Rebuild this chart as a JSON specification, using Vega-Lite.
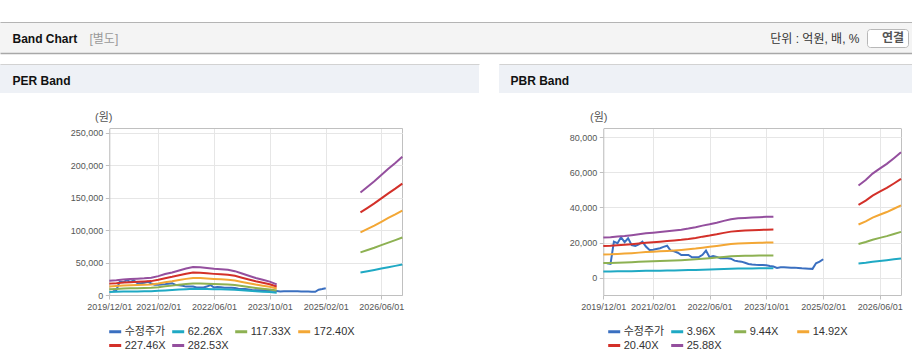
{
  "$schema": "https://vega.github.io/schema/vega-lite/v6.json",
  "padding": {"left": 0, "top": 22, "right": 0, "bottom": 0},
  "background": "#ffffff",
  "config": {
    "font": "Liberation Sans, Noto Sans CJK KR",
    "view": {"stroke": null},
    "axis": {"labelFont": "Liberation Sans, Noto Sans CJK KR", "titleFont": "Liberation Sans, Noto Sans CJK KR"},
    "legend": {"labelFont": "Liberation Sans, Noto Sans CJK KR", "titleFont": "Liberation Sans, Noto Sans CJK KR"}
  },
  "datasets": {
    "price": [
      {"d":"2020-01-01","s":"수정주가","v":8200},{"d":"2020-02-01","s":"수정주가","v":7800},{"d":"2020-03-01","s":"수정주가","v":20500},
      {"d":"2020-04-01","s":"수정주가","v":19600},{"d":"2020-05-01","s":"수정주가","v":23000},{"d":"2020-06-01","s":"수정주가","v":20200},
      {"d":"2020-07-01","s":"수정주가","v":22400},{"d":"2020-08-01","s":"수정주가","v":18500},{"d":"2020-09-01","s":"수정주가","v":18100},
      {"d":"2020-10-01","s":"수정주가","v":19000},{"d":"2020-11-01","s":"수정주가","v":20500},{"d":"2020-12-01","s":"수정주가","v":17700},
      {"d":"2021-01-01","s":"수정주가","v":15800},{"d":"2021-02-01","s":"수정주가","v":15900},{"d":"2021-03-01","s":"수정주가","v":16300},
      {"d":"2021-04-01","s":"수정주가","v":16750},{"d":"2021-05-01","s":"수정주가","v":17500},{"d":"2021-06-01","s":"수정주가","v":18200},
      {"d":"2021-07-01","s":"수정주가","v":15400},{"d":"2021-08-01","s":"수정주가","v":15000},{"d":"2021-09-01","s":"수정주가","v":14200},
      {"d":"2021-10-01","s":"수정주가","v":12900},{"d":"2021-11-01","s":"수정주가","v":12900},{"d":"2021-12-01","s":"수정주가","v":12900},
      {"d":"2022-01-01","s":"수정주가","v":11600},{"d":"2022-02-01","s":"수정주가","v":11600},{"d":"2022-03-01","s":"수정주가","v":11700},
      {"d":"2022-04-01","s":"수정주가","v":13000},{"d":"2022-05-01","s":"수정주가","v":15400},{"d":"2022-06-01","s":"수정주가","v":11600},
      {"d":"2022-07-01","s":"수정주가","v":12300},{"d":"2022-08-01","s":"수정주가","v":11800},{"d":"2022-09-01","s":"수정주가","v":11000},
      {"d":"2022-10-01","s":"수정주가","v":11000},{"d":"2022-11-01","s":"수정주가","v":11000},{"d":"2022-12-01","s":"수정주가","v":10800},
      {"d":"2023-01-01","s":"수정주가","v":9700},{"d":"2023-02-01","s":"수정주가","v":9300},{"d":"2023-03-01","s":"수정주가","v":9100},
      {"d":"2023-04-01","s":"수정주가","v":8500},{"d":"2023-05-01","s":"수정주가","v":7800},{"d":"2023-06-01","s":"수정주가","v":7500},
      {"d":"2023-07-01","s":"수정주가","v":7300},{"d":"2023-08-01","s":"수정주가","v":7200},{"d":"2023-09-01","s":"수정주가","v":7200},
      {"d":"2023-10-01","s":"수정주가","v":7000},{"d":"2023-11-01","s":"수정주가","v":6600},{"d":"2023-12-01","s":"수정주가","v":6300},
      {"d":"2024-01-01","s":"수정주가","v":5500},{"d":"2024-02-01","s":"수정주가","v":5900},{"d":"2024-03-01","s":"수정주가","v":5900},
      {"d":"2024-04-01","s":"수정주가","v":5800},{"d":"2024-05-01","s":"수정주가","v":5700},{"d":"2024-06-01","s":"수정주가","v":5700},
      {"d":"2024-07-01","s":"수정주가","v":5500},{"d":"2024-08-01","s":"수정주가","v":5300},{"d":"2024-09-01","s":"수정주가","v":5200},
      {"d":"2024-10-01","s":"수정주가","v":5100},{"d":"2024-11-01","s":"수정주가","v":5000},{"d":"2024-12-01","s":"수정주가","v":8200},
      {"d":"2025-01-01","s":"수정주가","v":9100},{"d":"2025-02-01","s":"수정주가","v":10500}
    ],
    "perb": [
      {"d":"2019-12-01","s":"62.26X","v":4794},{"d":"2019-12-01","s":"117.33X","v":9034},{"d":"2019-12-01","s":"172.40X","v":13275},{"d":"2019-12-01","s":"227.46X","v":17514},{"d":"2019-12-01","s":"282.53X","v":21755},
      {"d":"2020-02-01","s":"62.26X","v":4981},{"d":"2020-02-01","s":"117.33X","v":9386},{"d":"2020-02-01","s":"172.40X","v":13792},{"d":"2020-02-01","s":"227.46X","v":18197},{"d":"2020-02-01","s":"282.53X","v":22602},
      {"d":"2020-04-01","s":"62.26X","v":5230},{"d":"2020-04-01","s":"117.33X","v":9856},{"d":"2020-04-01","s":"172.40X","v":14482},{"d":"2020-04-01","s":"227.46X","v":19107},{"d":"2020-04-01","s":"282.53X","v":23733},
      {"d":"2020-06-01","s":"62.26X","v":5417},{"d":"2020-06-01","s":"117.33X","v":10208},{"d":"2020-06-01","s":"172.40X","v":14999},{"d":"2020-06-01","s":"227.46X","v":19789},{"d":"2020-06-01","s":"282.53X","v":24580},
      {"d":"2020-08-01","s":"62.26X","v":5541},{"d":"2020-08-01","s":"117.33X","v":10442},{"d":"2020-08-01","s":"172.40X","v":15344},{"d":"2020-08-01","s":"227.46X","v":20244},{"d":"2020-08-01","s":"282.53X","v":25145},
      {"d":"2020-10-01","s":"62.26X","v":5666},{"d":"2020-10-01","s":"117.33X","v":10677},{"d":"2020-10-01","s":"172.40X","v":15688},{"d":"2020-10-01","s":"227.46X","v":20699},{"d":"2020-10-01","s":"282.53X","v":25710},
      {"d":"2020-12-01","s":"62.26X","v":5852},{"d":"2020-12-01","s":"117.33X","v":11029},{"d":"2020-12-01","s":"172.40X","v":16206},{"d":"2020-12-01","s":"227.46X","v":21381},{"d":"2020-12-01","s":"282.53X","v":26558},
      {"d":"2021-02-01","s":"62.26X","v":6413},{"d":"2021-02-01","s":"117.33X","v":12085},{"d":"2021-02-01","s":"172.40X","v":17757},{"d":"2021-02-01","s":"227.46X","v":23428},{"d":"2021-02-01","s":"282.53X","v":29101},
      {"d":"2021-04-01","s":"62.26X","v":7098},{"d":"2021-04-01","s":"117.33X","v":13376},{"d":"2021-04-01","s":"172.40X","v":19654},{"d":"2021-04-01","s":"227.46X","v":25930},{"d":"2021-04-01","s":"282.53X","v":32208},
      {"d":"2021-06-01","s":"62.26X","v":7658},{"d":"2021-06-01","s":"117.33X","v":14432},{"d":"2021-06-01","s":"172.40X","v":21205},{"d":"2021-06-01","s":"227.46X","v":27978},{"d":"2021-06-01","s":"282.53X","v":34751},
      {"d":"2021-08-01","s":"62.26X","v":8343},{"d":"2021-08-01","s":"117.33X","v":15722},{"d":"2021-08-01","s":"172.40X","v":23102},{"d":"2021-08-01","s":"227.46X","v":30480},{"d":"2021-08-01","s":"282.53X","v":37859},
      {"d":"2021-10-01","s":"62.26X","v":8965},{"d":"2021-10-01","s":"117.33X","v":16896},{"d":"2021-10-01","s":"172.40X","v":24826},{"d":"2021-10-01","s":"227.46X","v":32754},{"d":"2021-10-01","s":"282.53X","v":40684},
      {"d":"2021-12-01","s":"62.26X","v":9464},{"d":"2021-12-01","s":"117.33X","v":17834},{"d":"2021-12-01","s":"172.40X","v":26205},{"d":"2021-12-01","s":"227.46X","v":34574},{"d":"2021-12-01","s":"282.53X","v":42945},
      {"d":"2022-02-01","s":"62.26X","v":9401},{"d":"2022-02-01","s":"117.33X","v":17717},{"d":"2022-02-01","s":"172.40X","v":26032},{"d":"2022-02-01","s":"227.46X","v":34346},{"d":"2022-02-01","s":"282.53X","v":42662},
      {"d":"2022-04-01","s":"62.26X","v":9152},{"d":"2022-04-01","s":"117.33X","v":17248},{"d":"2022-04-01","s":"172.40X","v":25343},{"d":"2022-04-01","s":"227.46X","v":33437},{"d":"2022-04-01","s":"282.53X","v":41532},
      {"d":"2022-06-01","s":"62.26X","v":8903},{"d":"2022-06-01","s":"117.33X","v":16778},{"d":"2022-06-01","s":"172.40X","v":24653},{"d":"2022-06-01","s":"227.46X","v":32527},{"d":"2022-06-01","s":"282.53X","v":40402},
      {"d":"2022-08-01","s":"62.26X","v":8716},{"d":"2022-08-01","s":"117.33X","v":16426},{"d":"2022-08-01","s":"172.40X","v":24136},{"d":"2022-08-01","s":"227.46X","v":31844},{"d":"2022-08-01","s":"282.53X","v":39554},
      {"d":"2022-10-01","s":"62.26X","v":8530},{"d":"2022-10-01","s":"117.33X","v":16074},{"d":"2022-10-01","s":"172.40X","v":23619},{"d":"2022-10-01","s":"227.46X","v":31162},{"d":"2022-10-01","s":"282.53X","v":38707},
      {"d":"2022-12-01","s":"62.26X","v":8094},{"d":"2022-12-01","s":"117.33X","v":15253},{"d":"2022-12-01","s":"172.40X","v":22412},{"d":"2022-12-01","s":"227.46X","v":29570},{"d":"2022-12-01","s":"282.53X","v":36729},
      {"d":"2023-02-01","s":"62.26X","v":7284},{"d":"2023-02-01","s":"117.33X","v":13728},{"d":"2023-02-01","s":"172.40X","v":20171},{"d":"2023-02-01","s":"227.46X","v":26613},{"d":"2023-02-01","s":"282.53X","v":33056},
      {"d":"2023-04-01","s":"62.26X","v":6537},{"d":"2023-04-01","s":"117.33X","v":12320},{"d":"2023-04-01","s":"172.40X","v":18102},{"d":"2023-04-01","s":"227.46X","v":23883},{"d":"2023-04-01","s":"282.53X","v":29666},
      {"d":"2023-06-01","s":"62.26X","v":5790},{"d":"2023-06-01","s":"117.33X","v":10912},{"d":"2023-06-01","s":"172.40X","v":16033},{"d":"2023-06-01","s":"227.46X","v":21154},{"d":"2023-06-01","s":"282.53X","v":26275},
      {"d":"2023-08-01","s":"62.26X","v":5168},{"d":"2023-08-01","s":"117.33X","v":9738},{"d":"2023-08-01","s":"172.40X","v":14309},{"d":"2023-08-01","s":"227.46X","v":18879},{"d":"2023-08-01","s":"282.53X","v":23450},
      {"d":"2023-10-01","s":"62.26X","v":4545},{"d":"2023-10-01","s":"117.33X","v":8565},{"d":"2023-10-01","s":"172.40X","v":12585},{"d":"2023-10-01","s":"227.46X","v":16605},{"d":"2023-10-01","s":"282.53X","v":20625},
      {"d":"2023-12-01","s":"62.26X","v":3611},{"d":"2023-12-01","s":"117.33X","v":6805},{"d":"2023-12-01","s":"172.40X","v":9999},{"d":"2023-12-01","s":"227.46X","v":13193},{"d":"2023-12-01","s":"282.53X","v":16387},
      {"d":"2025-12-01","s":"62.26X","v":34803,"g":1},{"d":"2025-12-01","s":"117.33X","v":65587,"g":1},{"d":"2025-12-01","s":"172.40X","v":96372,"g":1},{"d":"2025-12-01","s":"227.46X","v":127150,"g":1},{"d":"2025-12-01","s":"282.53X","v":157934,"g":1},
      {"d":"2026-02-01","s":"62.26X","v":36733,"g":1},{"d":"2026-02-01","s":"117.33X","v":69225,"g":1},{"d":"2026-02-01","s":"172.40X","v":101716,"g":1},{"d":"2026-02-01","s":"227.46X","v":134201,"g":1},{"d":"2026-02-01","s":"282.53X","v":166693,"g":1},
      {"d":"2026-04-01","s":"62.26X","v":38601,"g":1},{"d":"2026-04-01","s":"117.33X","v":72745,"g":1},{"d":"2026-04-01","s":"172.40X","v":106888,"g":1},{"d":"2026-04-01","s":"227.46X","v":141025,"g":1},{"d":"2026-04-01","s":"282.53X","v":175169,"g":1},
      {"d":"2026-06-01","s":"62.26X","v":40718,"g":1},{"d":"2026-06-01","s":"117.33X","v":76734,"g":1},{"d":"2026-06-01","s":"172.40X","v":112750,"g":1},{"d":"2026-06-01","s":"227.46X","v":148759,"g":1},{"d":"2026-06-01","s":"282.53X","v":184775,"g":1},
      {"d":"2026-08-01","s":"62.26X","v":42835,"g":1},{"d":"2026-08-01","s":"117.33X","v":80723,"g":1},{"d":"2026-08-01","s":"172.40X","v":118611,"g":1},{"d":"2026-08-01","s":"227.46X","v":156492,"g":1},{"d":"2026-08-01","s":"282.53X","v":194381,"g":1},
      {"d":"2026-10-01","s":"62.26X","v":44827,"g":1},{"d":"2026-10-01","s":"117.33X","v":84478,"g":1},{"d":"2026-10-01","s":"172.40X","v":124128,"g":1},{"d":"2026-10-01","s":"227.46X","v":163771,"g":1},{"d":"2026-10-01","s":"282.53X","v":203422,"g":1},
      {"d":"2026-12-01","s":"62.26X","v":46944,"g":1},{"d":"2026-12-01","s":"117.33X","v":88467,"g":1},{"d":"2026-12-01","s":"172.40X","v":129990,"g":1},{"d":"2026-12-01","s":"227.46X","v":171505,"g":1},{"d":"2026-12-01","s":"282.53X","v":213028,"g":1}
    ],
    "pbrb": [
      {"d":"2019-12-01","s":"3.96X","v":3489},{"d":"2019-12-01","s":"9.44X","v":8317},{"d":"2019-12-01","s":"14.92X","v":13145},{"d":"2019-12-01","s":"20.40X","v":17972},{"d":"2019-12-01","s":"25.88X","v":22800},
      {"d":"2020-02-01","s":"3.96X","v":3524},{"d":"2020-02-01","s":"9.44X","v":8402},{"d":"2020-02-01","s":"14.92X","v":13279},{"d":"2020-02-01","s":"20.40X","v":18156},{"d":"2020-02-01","s":"25.88X","v":23033},
      {"d":"2020-04-01","s":"3.96X","v":3584},{"d":"2020-04-01","s":"9.44X","v":8543},{"d":"2020-04-01","s":"14.92X","v":13503},{"d":"2020-04-01","s":"20.40X","v":18462},{"d":"2020-04-01","s":"25.88X","v":23421},
      {"d":"2020-06-01","s":"3.96X","v":3635},{"d":"2020-06-01","s":"9.44X","v":8666},{"d":"2020-06-01","s":"14.92X","v":13697},{"d":"2020-06-01","s":"20.40X","v":18727},{"d":"2020-06-01","s":"25.88X","v":23758},
      {"d":"2020-08-01","s":"3.96X","v":3703},{"d":"2020-08-01","s":"9.44X","v":8826},{"d":"2020-08-01","s":"14.92X","v":13950},{"d":"2020-08-01","s":"20.40X","v":19074},{"d":"2020-08-01","s":"25.88X","v":24198},
      {"d":"2020-10-01","s":"3.96X","v":3782},{"d":"2020-10-01","s":"9.44X","v":9015},{"d":"2020-10-01","s":"14.92X","v":14249},{"d":"2020-10-01","s":"20.40X","v":19482},{"d":"2020-10-01","s":"25.88X","v":24715},
      {"d":"2020-12-01","s":"3.96X","v":3861},{"d":"2020-12-01","s":"9.44X","v":9204},{"d":"2020-12-01","s":"14.92X","v":14547},{"d":"2020-12-01","s":"20.40X","v":19890},{"d":"2020-12-01","s":"25.88X","v":25233},
      {"d":"2021-02-01","s":"3.96X","v":3920},{"d":"2021-02-01","s":"9.44X","v":9346},{"d":"2021-02-01","s":"14.92X","v":14771},{"d":"2021-02-01","s":"20.40X","v":20196},{"d":"2021-02-01","s":"25.88X","v":25621},
      {"d":"2021-04-01","s":"3.96X","v":3980},{"d":"2021-04-01","s":"9.44X","v":9487},{"d":"2021-04-01","s":"14.92X","v":14995},{"d":"2021-04-01","s":"20.40X","v":20502},{"d":"2021-04-01","s":"25.88X","v":26009},
      {"d":"2021-06-01","s":"3.96X","v":4039},{"d":"2021-06-01","s":"9.44X","v":9629},{"d":"2021-06-01","s":"14.92X","v":15218},{"d":"2021-06-01","s":"20.40X","v":20808},{"d":"2021-06-01","s":"25.88X","v":26398},
      {"d":"2021-08-01","s":"3.96X","v":4103},{"d":"2021-08-01","s":"9.44X","v":9780},{"d":"2021-08-01","s":"14.92X","v":15457},{"d":"2021-08-01","s":"20.40X","v":21134},{"d":"2021-08-01","s":"25.88X","v":26812},
      {"d":"2021-10-01","s":"3.96X","v":4178},{"d":"2021-10-01","s":"9.44X","v":9959},{"d":"2021-10-01","s":"14.92X","v":15741},{"d":"2021-10-01","s":"20.40X","v":21522},{"d":"2021-10-01","s":"25.88X","v":27303},
      {"d":"2021-12-01","s":"3.96X","v":4277},{"d":"2021-12-01","s":"9.44X","v":10195},{"d":"2021-12-01","s":"14.92X","v":16114},{"d":"2021-12-01","s":"20.40X","v":22032},{"d":"2021-12-01","s":"25.88X","v":27950},
      {"d":"2022-02-01","s":"3.96X","v":4396},{"d":"2022-02-01","s":"9.44X","v":10478},{"d":"2022-02-01","s":"14.92X","v":16561},{"d":"2022-02-01","s":"20.40X","v":22644},{"d":"2022-02-01","s":"25.88X","v":28727},
      {"d":"2022-04-01","s":"3.96X","v":4534},{"d":"2022-04-01","s":"9.44X","v":10809},{"d":"2022-04-01","s":"14.92X","v":17083},{"d":"2022-04-01","s":"20.40X","v":23358},{"d":"2022-04-01","s":"25.88X","v":29633},
      {"d":"2022-06-01","s":"3.96X","v":4653},{"d":"2022-06-01","s":"9.44X","v":11092},{"d":"2022-06-01","s":"14.92X","v":17531},{"d":"2022-06-01","s":"20.40X","v":23970},{"d":"2022-06-01","s":"25.88X","v":30409},
      {"d":"2022-08-01","s":"3.96X","v":4792},{"d":"2022-08-01","s":"9.44X","v":11422},{"d":"2022-08-01","s":"14.92X","v":18053},{"d":"2022-08-01","s":"20.40X","v":24684},{"d":"2022-08-01","s":"25.88X","v":31315},
      {"d":"2022-10-01","s":"3.96X","v":4950},{"d":"2022-10-01","s":"9.44X","v":11800},{"d":"2022-10-01","s":"14.92X","v":18650},{"d":"2022-10-01","s":"20.40X","v":25500},{"d":"2022-10-01","s":"25.88X","v":32350},
      {"d":"2022-12-01","s":"3.96X","v":5089},{"d":"2022-12-01","s":"9.44X","v":12130},{"d":"2022-12-01","s":"14.92X","v":19172},{"d":"2022-12-01","s":"20.40X","v":26214},{"d":"2022-12-01","s":"25.88X","v":33256},
      {"d":"2023-02-01","s":"3.96X","v":5168},{"d":"2023-02-01","s":"9.44X","v":12319},{"d":"2023-02-01","s":"14.92X","v":19471},{"d":"2023-02-01","s":"20.40X","v":26622},{"d":"2023-02-01","s":"25.88X","v":33773},
      {"d":"2023-04-01","s":"3.96X","v":5207},{"d":"2023-04-01","s":"9.44X","v":12414},{"d":"2023-04-01","s":"14.92X","v":19620},{"d":"2023-04-01","s":"20.40X","v":26826},{"d":"2023-04-01","s":"25.88X","v":34032},
      {"d":"2023-06-01","s":"3.96X","v":5247},{"d":"2023-06-01","s":"9.44X","v":12508},{"d":"2023-06-01","s":"14.92X","v":19769},{"d":"2023-06-01","s":"20.40X","v":27030},{"d":"2023-06-01","s":"25.88X","v":34291},
      {"d":"2023-08-01","s":"3.96X","v":5275},{"d":"2023-08-01","s":"9.44X","v":12574},{"d":"2023-08-01","s":"14.92X","v":19873},{"d":"2023-08-01","s":"20.40X","v":27173},{"d":"2023-08-01","s":"25.88X","v":34472},
      {"d":"2023-10-01","s":"3.96X","v":5298},{"d":"2023-10-01","s":"9.44X","v":12631},{"d":"2023-10-01","s":"14.92X","v":19963},{"d":"2023-10-01","s":"20.40X","v":27295},{"d":"2023-10-01","s":"25.88X","v":34627},
      {"d":"2023-12-01","s":"3.96X","v":5318},{"d":"2023-12-01","s":"9.44X","v":12678},{"d":"2023-12-01","s":"14.92X","v":20038},{"d":"2023-12-01","s":"20.40X","v":27397},{"d":"2023-12-01","s":"25.88X","v":34757},
      {"d":"2025-12-01","s":"3.96X","v":8039,"g":1},{"d":"2025-12-01","s":"9.44X","v":19163,"g":1},{"d":"2025-12-01","s":"14.92X","v":30288,"g":1},{"d":"2025-12-01","s":"20.40X","v":41412,"g":1},{"d":"2025-12-01","s":"25.88X","v":52536,"g":1},
      {"d":"2026-02-01","s":"3.96X","v":8514,"g":1},{"d":"2026-02-01","s":"9.44X","v":20296,"g":1},{"d":"2026-02-01","s":"14.92X","v":32078,"g":1},{"d":"2026-02-01","s":"20.40X","v":43860,"g":1},{"d":"2026-02-01","s":"25.88X","v":55642,"g":1},
      {"d":"2026-04-01","s":"3.96X","v":9068,"g":1},{"d":"2026-04-01","s":"9.44X","v":21618,"g":1},{"d":"2026-04-01","s":"14.92X","v":34167,"g":1},{"d":"2026-04-01","s":"20.40X","v":46716,"g":1},{"d":"2026-04-01","s":"25.88X","v":59265,"g":1},
      {"d":"2026-06-01","s":"3.96X","v":9504,"g":1},{"d":"2026-06-01","s":"9.44X","v":22656,"g":1},{"d":"2026-06-01","s":"14.92X","v":35808,"g":1},{"d":"2026-06-01","s":"20.40X","v":48960,"g":1},{"d":"2026-06-01","s":"25.88X","v":62112,"g":1},
      {"d":"2026-08-01","s":"3.96X","v":9920,"g":1},{"d":"2026-08-01","s":"9.44X","v":23647,"g":1},{"d":"2026-08-01","s":"14.92X","v":37375,"g":1},{"d":"2026-08-01","s":"20.40X","v":51102,"g":1},{"d":"2026-08-01","s":"25.88X","v":64829,"g":1},
      {"d":"2026-10-01","s":"3.96X","v":10415,"g":1},{"d":"2026-10-01","s":"9.44X","v":24827,"g":1},{"d":"2026-10-01","s":"14.92X","v":39240,"g":1},{"d":"2026-10-01","s":"20.40X","v":53652,"g":1},{"d":"2026-10-01","s":"25.88X","v":68064,"g":1},
      {"d":"2026-12-01","s":"3.96X","v":10930,"g":1},{"d":"2026-12-01","s":"9.44X","v":26054,"g":1},{"d":"2026-12-01","s":"14.92X","v":41179,"g":1},{"d":"2026-12-01","s":"20.40X","v":56304,"g":1},{"d":"2026-12-01","s":"25.88X","v":71429,"g":1}
    ]
  },
  "spacing": 11,
  "resolve": {"scale": {"x": "independent", "y": "independent", "color": "independent"}, "axis": {"x": "independent", "y": "independent"}, "legend": {"color": "independent"}},
  "vconcat": [
    {
      "width": 912,
      "height": 31,
      "view": {"fill": "#f4f4f4", "stroke": null},
      "resolve": {"scale": {"x": "independent", "y": "independent"}, "axis": {"x": "independent", "y": "independent"}},
      "layer": [
        {
          "data": {"values": [{"b": "x"}]},
          "mark": {"type": "point", "opacity": 0, "size": 1},
          "encoding": {
            "x": {"datum": 0.5, "type": "quantitative", "scale": {"domain": [0, 1]},
              "axis": {"orient": "top", "title": "Band Chart", "titleX": 12, "titleY": 16, "titleAngle": 0, "titleAlign": "left", "titleBaseline": "middle", "titleFontSize": 12, "titleFontWeight": "bold", "titleColor": "#111111", "domain": true, "domainColor": "#b4b4b4", "ticks": false, "labels": false, "grid": false}},
            "y": {"datum": 0.5, "type": "quantitative", "scale": {"domain": [0, 1]},
              "axis": {"orient": "left", "title": "[별도]", "titleX": 89, "titleY": 16, "titleAngle": 0, "titleAlign": "left", "titleBaseline": "middle", "titleFontSize": 12, "titleFontWeight": "normal", "titleColor": "#999999", "domain": false, "ticks": false, "labels": false, "grid": false}}
          }
        },
        {
          "data": {"values": [{"b": "연결"}]},
          "mark": {"type": "point", "opacity": 0, "size": 1},
          "encoding": {
            "x": {"datum": 0.5, "type": "quantitative", "scale": {"domain": [0, 1]},
              "axis": {"orient": "bottom", "title": null, "domain": true, "domainColor": "#a8a8a8", "domainWidth": 1.5, "ticks": false, "labels": false, "grid": false}},
            "y": {"datum": 0.5, "type": "quantitative", "scale": {"domain": [0, 1]},
              "axis": {"orient": "right", "title": "단위 : 억원, 배, %", "titleX": -53, "titleY": 16, "titleAngle": 0, "titleAlign": "right", "titleBaseline": "middle", "titleFontSize": 12, "titleFontWeight": "normal", "titleColor": "#333333", "domain": false, "ticks": false, "labels": false, "grid": false}},
            "color": {"field": "b", "type": "nominal", "scale": {"range": ["#ffffff"]},
              "legend": {"orient": "none", "legendX": 867, "legendY": 7, "title": null, "fillColor": "#ffffff", "strokeColor": "#b8b8b8", "cornerRadius": 3, "padding": 3, "symbolSize": 0, "symbolStrokeWidth": 0, "symbolOpacity": 0, "labelOffset": 0, "labelFontSize": 12, "labelFontWeight": "bold", "labelColor": "#555555", "labelExpr": "'\u00a0\u00a0' + datum.label + '\u00a0\u00a0'"}}
          }
        }
      ]
    },
    {
      "spacing": 20,
      "resolve": {"scale": {"x": "independent", "y": "independent", "color": "independent"}, "axis": {"x": "independent", "y": "independent"}, "legend": {"color": "independent"}},
      "hconcat": [
        {
          "spacing": 0,
          "resolve": {"scale": {"x": "independent", "y": "independent", "color": "independent"}, "axis": {"x": "independent", "y": "independent"}, "legend": {"color": "independent"}},
          "vconcat": [
            {
              "width": 479,
              "height": 29,
              "view": {"fill": "#eef1f6", "stroke": null},
              "data": {"values": [{"b": "x"}]},
              "mark": {"type": "point", "opacity": 0, "size": 1},
              "encoding": {
                "x": {"datum": 0.5, "type": "quantitative", "scale": {"domain": [0, 1]},
                  "axis": {"orient": "top", "title": "PER Band", "titleX": 12, "titleY": 16, "titleAngle": 0, "titleAlign": "left", "titleBaseline": "middle", "titleFontSize": 12, "titleFontWeight": "bold", "titleColor": "#111111", "domain": true, "domainColor": "#d2d2d2", "ticks": false, "labels": false, "grid": false}}
              }
            },
            {
              "width": 479,
              "height": 237.3,
              "encoding": {
                "x": {"field": "d", "type": "temporal",
                  "scale": {"domain": [{"year": 2019, "month": 12, "date": 1}, {"year": 2026, "month": 12, "date": 1}], "range": [109.3, 402.3], "nice": false},
                  "axis": {"orient": "bottom", "offset": -35.3, "title": null,
                    "values": [{"year": 2019, "month": 12, "date": 1}, {"year": 2021, "month": 2, "date": 1}, {"year": 2022, "month": 6, "date": 1}, {"year": 2023, "month": 10, "date": 1}, {"year": 2025, "month": 2, "date": 1}, {"year": 2026, "month": 6, "date": 1}, {"year": 2026, "month": 12, "date": 1}],
                    "format": "%Y/%m/%d", "labelExpr": "datum.value > 1790000000000 ? '' : datum.label",
                    "labelFontSize": 9, "labelColor": "#555555", "labelFlush": false, "labelOverlap": false, "labelPadding": 3,
                    "tickSize": 4, "tickColor": {"condition": {"test": "datum.value > 1790000000000", "value": "transparent"}, "value": "#c0c0c0"},
                    "domainColor": "#c0c0c0", "grid": true,
                    "gridColor": {"condition": {"test": "datum.value > 1790000000000", "value": "#c0c0c0"}, "value": "#e6e6e6"}}},
                "y": {"field": "v", "type": "quantitative",
                  "scale": {"domain": [0, 256700], "range": [202, 35.3], "nice": false, "zero": false},
                  "axis": {"orient": "left", "offset": -109.3,
                    "values": [0, 50000, 100000, 150000, 200000, 250000, 256700],
                    "labelExpr": "datum.value > 250000 ? '' : format(datum.value, ',')",
                    "title": "(원)", "titleX": -6, "titleY": 24, "titleAngle": 0, "titleAlign": "center", "titleBaseline": "middle", "titleFontSize": 11, "titleFontWeight": "normal", "titleColor": "#555555",
                    "labelFontSize": 9, "labelColor": "#555555", "labelPadding": 2.5, "labelOverlap": false,
                    "tickSize": 4, "tickColor": {"condition": {"test": "datum.value > 250000", "value": "transparent"}, "value": "#c0c0c0"},
                    "domainColor": "#c0c0c0", "grid": true,
                    "gridColor": {"condition": {"test": "datum.value > 250000", "value": "#c0c0c0"}, "value": "#e6e6e6"}}},
                "color": {"field": "s", "type": "nominal",
                  "scale": {"domain": ["수정주가", "62.26X", "117.33X", "172.40X", "227.46X", "282.53X"], "range": ["#3a6fc0", "#1fa9c4", "#8db152", "#f3a735", "#d33029", "#944f9e"]},
                  "legend": {"orient": "none", "legendX": 107.7, "legendY": 231, "title": null, "direction": "horizontal", "columns": 4, "gridAlign": "all", "columnPadding": 0, "rowPadding": -2, "padding": 0,
                    "symbolType": "stroke", "symbolSize": 144, "symbolStrokeWidth": 3, "labelOffset": 2, "labelFontSize": 11, "labelColor": "#333333"}}
              },
              "layer": [
                {"data": {"name": "price"}, "mark": {"type": "line", "strokeWidth": 2}},
                {"data": {"name": "perb"}, "mark": {"type": "line", "strokeWidth": 2}, "encoding": {"detail": {"field": "g"}}}
              ]
            }
          ]
        },
        {
          "spacing": 0,
          "resolve": {"scale": {"x": "independent", "y": "independent", "color": "independent"}, "axis": {"x": "independent", "y": "independent"}, "legend": {"color": "independent"}},
          "vconcat": [
            {
              "width": 413,
              "height": 29,
              "view": {"fill": "#eef1f6", "stroke": null},
              "data": {"values": [{"b": "x"}]},
              "mark": {"type": "point", "opacity": 0, "size": 1},
              "encoding": {
                "x": {"datum": 0.5, "type": "quantitative", "scale": {"domain": [0, 1]},
                  "axis": {"orient": "top", "title": "PBR Band", "titleX": 11, "titleY": 16, "titleAngle": 0, "titleAlign": "left", "titleBaseline": "middle", "titleFontSize": 12, "titleFontWeight": "bold", "titleColor": "#111111", "domain": true, "domainColor": "#d2d2d2", "ticks": false, "labels": false, "grid": false}}
              }
            },
            {
              "width": 413,
              "height": 237.3,
              "encoding": {
                "x": {"field": "d", "type": "temporal",
                  "scale": {"domain": [{"year": 2019, "month": 12, "date": 1}, {"year": 2026, "month": 12, "date": 1}], "range": [104.3, 402], "nice": false},
                  "axis": {"orient": "bottom", "offset": -35.3, "title": null,
                    "values": [{"year": 2019, "month": 12, "date": 1}, {"year": 2021, "month": 2, "date": 1}, {"year": 2022, "month": 6, "date": 1}, {"year": 2023, "month": 10, "date": 1}, {"year": 2025, "month": 2, "date": 1}, {"year": 2026, "month": 6, "date": 1}, {"year": 2026, "month": 12, "date": 1}],
                    "format": "%Y/%m/%d", "labelExpr": "datum.value > 1790000000000 ? '' : datum.label",
                    "labelFontSize": 9, "labelColor": "#555555", "labelFlush": false, "labelOverlap": false, "labelPadding": 3,
                    "tickSize": 4, "tickColor": {"condition": {"test": "datum.value > 1790000000000", "value": "transparent"}, "value": "#c0c0c0"},
                    "domainColor": "#c0c0c0", "grid": true,
                    "gridColor": {"condition": {"test": "datum.value > 1790000000000", "value": "#c0c0c0"}, "value": "#e6e6e6"}}},
                "y": {"field": "v", "type": "quantitative",
                  "scale": {"domain": [-9900, 85100], "range": [202, 35.3], "nice": false, "zero": false},
                  "axis": {"orient": "left", "offset": -104.3,
                    "values": [0, 20000, 40000, 60000, 80000, 85100],
                    "labelExpr": "datum.value > 80000 ? '' : format(datum.value, ',')",
                    "title": "(원)", "titleX": -5, "titleY": 24, "titleAngle": 0, "titleAlign": "center", "titleBaseline": "middle", "titleFontSize": 11, "titleFontWeight": "normal", "titleColor": "#555555",
                    "labelFontSize": 9, "labelColor": "#555555", "labelPadding": 2.5, "labelOverlap": false,
                    "tickSize": 4, "tickColor": {"condition": {"test": "datum.value > 80000", "value": "transparent"}, "value": "#c0c0c0"},
                    "domainColor": "#c0c0c0", "grid": true,
                    "gridColor": {"condition": {"test": "datum.value > 80000", "value": "#c0c0c0"}, "value": "#e6e6e6"}}},
                "color": {"field": "s", "type": "nominal",
                  "scale": {"domain": ["수정주가", "3.96X", "9.44X", "14.92X", "20.40X", "25.88X"], "range": ["#3a6fc0", "#1fa9c4", "#8db152", "#f3a735", "#d33029", "#944f9e"]},
                  "legend": {"orient": "none", "legendX": 107.7, "legendY": 231, "title": null, "direction": "horizontal", "columns": 4, "gridAlign": "all", "columnPadding": 0, "rowPadding": -2, "padding": 0,
                    "symbolType": "stroke", "symbolSize": 144, "symbolStrokeWidth": 3, "labelOffset": 2, "labelFontSize": 11, "labelColor": "#333333"}}
              },
              "layer": [
                {"data": {"name": "price"}, "mark": {"type": "line", "strokeWidth": 2}},
                {"data": {"name": "pbrb"}, "mark": {"type": "line", "strokeWidth": 2}, "encoding": {"detail": {"field": "g"}}}
              ]
            }
          ]
        }
      ]
    }
  ]
}
